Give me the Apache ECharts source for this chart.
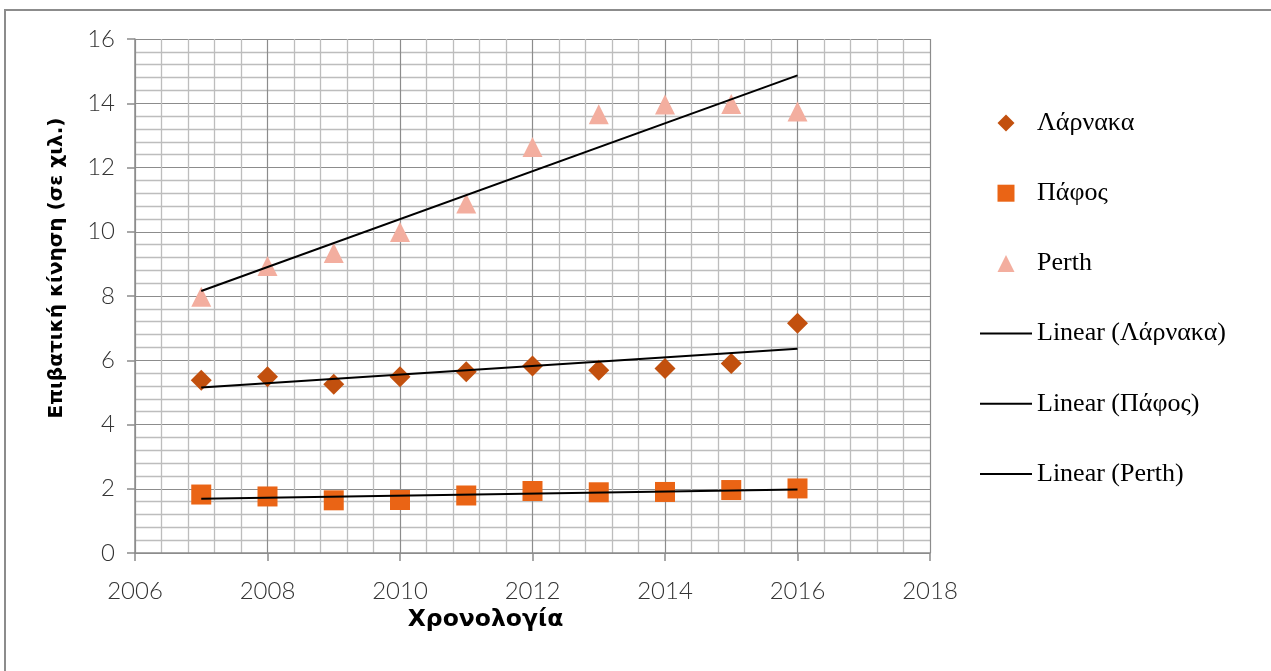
<!DOCTYPE html>
<html>
<head>
<meta charset="utf-8">
<script src="https://cdn.jsdelivr.net/npm/echarts@6/dist/echarts.min.js"></script>
<style>
  html, body { margin: 0; padding: 0; background: #ffffff; }
  #chart { width: 1271px; height: 671px; }
</style>
</head>
<body>
<div id="chart"></div>
<script>
// Passenger traffic (thousands) per year
const years   = [2007, 2008, 2009, 2010, 2011, 2012, 2013, 2014, 2015, 2016];
const larnaka = [5.38, 5.49, 5.25, 5.49, 5.64, 5.82, 5.69, 5.74, 5.90, 7.15];
const pafos   = [1.82, 1.76, 1.64, 1.65, 1.79, 1.93, 1.89, 1.90, 1.96, 2.01];
const perth   = [7.98, 8.93, 9.34, 9.99, 10.88, 12.64, 13.66, 13.96, 13.98, 13.74];

// Axis ranges: [min, max, step]
const xRange = [2006, 2018, 2];
const yRange = [0, 16, 2];

const names = ['Λάρνακα', 'Πάφος', 'Perth'];
const trendNames = ['Linear (Λάρνακα)', 'Linear (Πάφος)', 'Linear (Perth)'];
const symbols = ['diamond', 'rect', 'triangle'];
const colors = ['#C2500E', '#EA6415', '#F3AE9F'];

// Legend icons as paths so they keep a square aspect inside the wide legend box
const legendIcons = [
  'path://M0,-1L1,0L0,1L-1,0Z',
  'path://M0,0h1v1h-1z',
  'path://M0,-1L1,1L-1,1Z'
];
// thin horizontal bar used as the legend icon of the trend lines
const lineIcon = 'path://M0,0h52v2h-52z';

// Least-squares straight line over the years, returned as its two end points
function linearTrend(xs, ys) {
  const n = xs.length;
  const mx = xs.reduce((a, b) => a + b, 0) / n;
  const my = ys.reduce((a, b) => a + b, 0) / n;
  let sxy = 0, sxx = 0;
  for (let i = 0; i < n; i++) {
    sxy += (xs[i] - mx) * (ys[i] - my);
    sxx += (xs[i] - mx) * (xs[i] - mx);
  }
  const slope = sxy / sxx;
  const x0 = xs[0], x1 = xs[n - 1];
  return [[x0, my + slope * (x0 - mx)], [x1, my + slope * (x1 - mx)]];
}

const pairs = (ys) => years.map((y, i) => [y, ys[i]]);

const tickFont = { fontFamily: 'Lato', fontWeight: 300, fontSize: 24, color: '#333333' };
const majorColor = '#8c8c8c';
const minorColor = '#bdbdbd';

const chart = echarts.init(document.getElementById('chart'), null, { renderer: 'canvas' });

const axisCommon = {
  type: 'value',
  nameLocation: 'middle',
  axisLine: { show: true, lineStyle: { color: majorColor, width: 1.5 } },
  axisTick: { show: true, length: 8, lineStyle: { color: majorColor, width: 1.5 } },
  splitLine: { show: true, lineStyle: { color: majorColor, width: 1.2 } },
  minorTick: { show: false, splitNumber: 5 },
  minorSplitLine: { show: true, lineStyle: { color: minorColor, width: 1.3 } }
};

chart.setOption({
  animation: false,
  backgroundColor: '#ffffff',
  graphic: [{
    type: 'rect',
    z: -10,
    shape: { x: 5, y: 10, width: 1400, height: 800 },
    style: { fill: 'none', stroke: '#8c8c8c', lineWidth: 2 }
  }],
  grid: { left: 135, right: 341, top: 39, bottom: 118 },
  legend: {
    orient: 'vertical',
    left: 975,
    top: 105,
    itemWidth: 52,
    itemHeight: 17,
    itemGap: 44.2,
    symbolKeepAspect: true,
    textStyle: { fontFamily: 'Liberation Serif', fontSize: 26, lineHeight: 24, color: '#000000' },
    data: names.map((n, i) => ({ name: n, icon: legendIcons[i] }))
      .concat(trendNames.map(n => ({ name: n, icon: lineIcon, itemStyle: { color: '#000' } })))
  },
  xAxis: Object.assign({}, axisCommon, {
    min: xRange[0], max: xRange[1], interval: xRange[2],
    name: 'Χρονολογία',
    nameGap: 49,
    nameTextStyle: { fontFamily: 'DejaVu Sans', fontWeight: 'bold', fontSize: 23.5, color: '#000', padding: [0, 94, 0, 0] },
    axisLabel: Object.assign({ margin: 26, formatter: v => String(v) }, tickFont)
  }),
  yAxis: Object.assign({}, axisCommon, {
    min: yRange[0], max: yRange[1], interval: yRange[2],
    name: 'Επιβατική κίνηση (σε χιλ.)',
    nameRotate: 90,
    nameGap: 68,
    nameTextStyle: { fontFamily: 'DejaVu Sans', fontWeight: 'bold', fontSize: 20, color: '#000', padding: [0, 0, 0, 56] },
    axisLabel: Object.assign({ margin: 20, formatter: v => String(v) }, tickFont)
  }),
  series: names.map((n, i) => ({
    name: n, type: 'scatter', symbol: symbols[i], symbolSize: i === 0 ? 21 : 20,
    itemStyle: { color: colors[i], opacity: 1 },
    data: pairs([larnaka, pafos, perth][i])
  })).concat(trendNames.map((n, i) => ({
    name: n, type: 'line', symbol: 'none', z: 5,
    lineStyle: { color: '#000', width: 2 }, itemStyle: { color: '#000' },
    data: linearTrend(years, [larnaka, pafos, perth][i])
  })))
});
</script>
</body>
</html>
